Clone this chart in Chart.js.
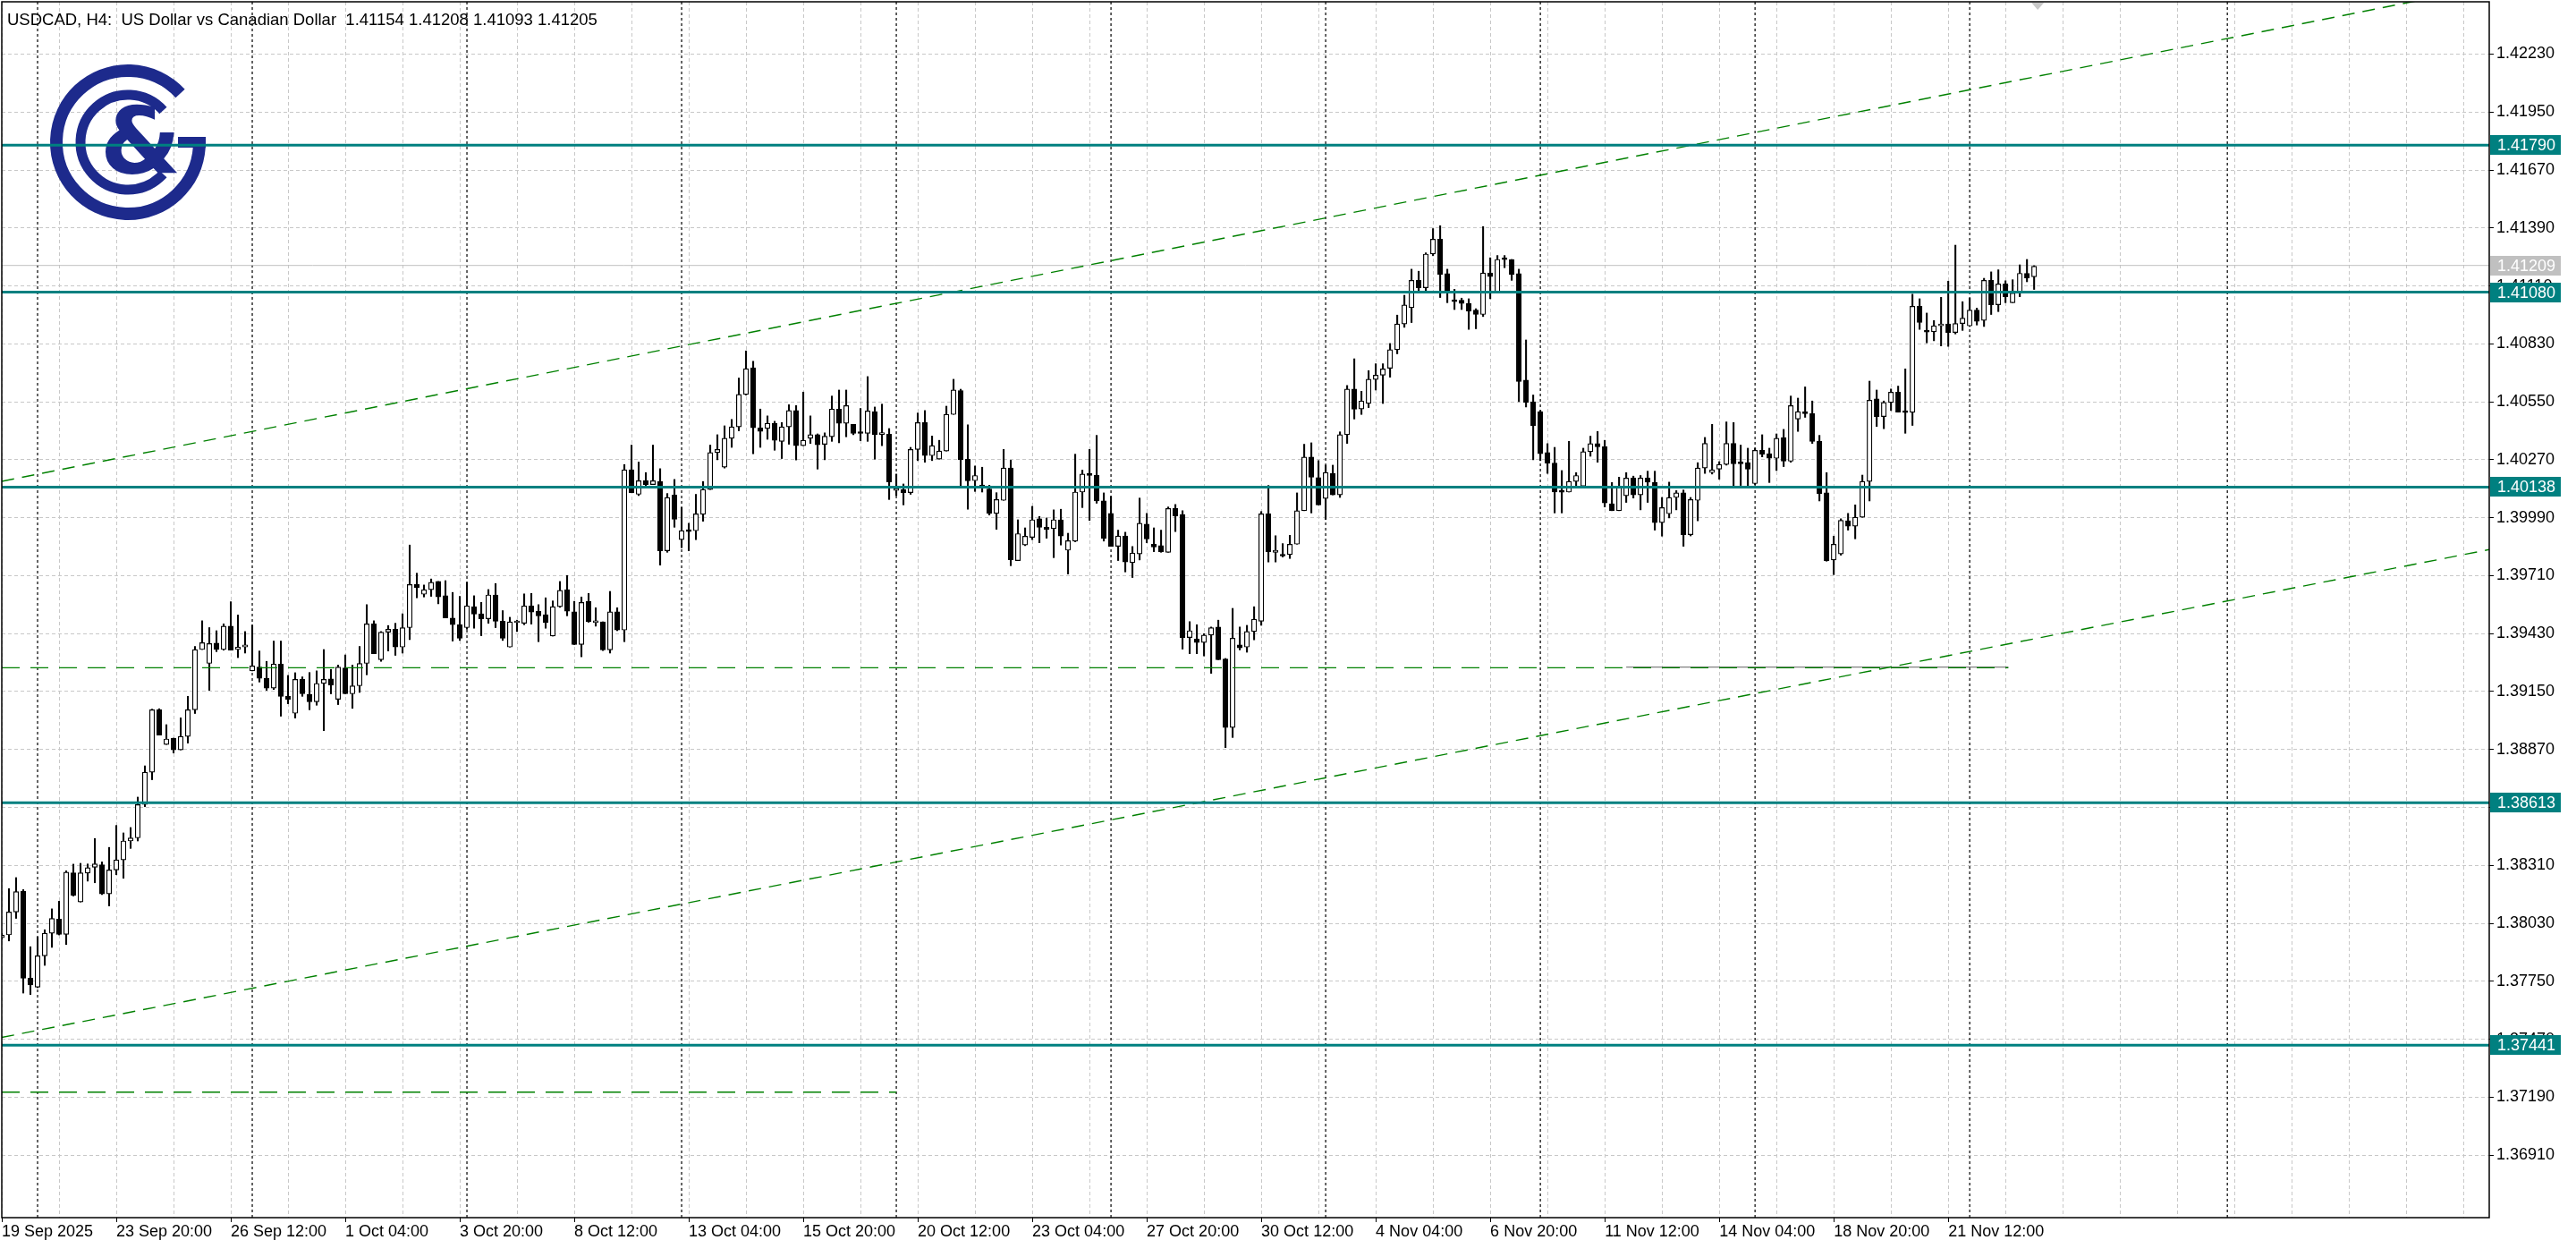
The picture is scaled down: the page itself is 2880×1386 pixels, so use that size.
<!DOCTYPE html>
<html>
<head>
<meta charset="utf-8">
<script src="https://cdn.jsdelivr.net/npm/chart.js@4.4.0/dist/chart.umd.min.js"></script>
<style>
  html, body { margin: 0; padding: 0; background: #fff; }
  #wrap { width: 2880px; height: 1386px; }
</style>
</head>
<body>
<div id="wrap"><canvas id="chart" width="2880" height="1386"></canvas></div>
<script>
// USDCAD H4 candles (bar 0 = 19 Sep 04:00)
const opens = [
  1.37960,1.37974,1.38085,1.38186,1.37765,1.37722,1.37873,1.37982,1.38051,1.37977,
  1.38274,1.38133,1.38273,1.38301,1.38313,1.38172,1.38288,1.38337,1.38428,1.38443,
  1.38604,1.38760,1.39062,1.38894,1.38925,1.38868,1.38933,1.39062,1.39353,1.39286,
  1.39384,1.39353,1.39466,1.39353,1.39365,1.39250,1.39268,1.39214,1.39167,1.39283,
  1.39127,1.39045,1.39209,1.39137,1.39101,1.39189,1.39211,1.39113,1.39264,1.39139,
  1.39178,1.39286,1.39477,1.39304,1.39437,1.39451,1.39365,1.39459,1.39667,1.39620,
  1.39642,1.39682,1.39613,1.39505,1.39473,1.39459,1.39560,1.39526,1.39502,1.39617,
  1.39490,1.39365,1.39483,1.39480,1.39564,1.39538,1.39521,1.39418,1.39560,1.39642,
  1.39535,1.39377,1.39586,1.39483,1.39487,1.39351,1.39535,1.39447,1.40222,1.40103,
  1.40169,1.40150,1.40165,1.39830,1.40100,1.39884,1.39926,1.39927,1.40006,1.40126,
  1.40305,1.40234,1.40374,1.40429,1.40586,1.40715,1.40424,1.40421,1.40446,1.40359,
  1.40429,1.40508,1.40338,1.40374,1.40391,1.40345,1.40381,1.40515,1.40446,1.40441,
  1.40400,1.40398,1.40503,1.40392,1.40394,1.40122,1.40126,1.40111,1.40320,1.40450,
  1.40290,1.40273,1.40312,1.40489,1.40604,1.40273,1.40169,1.40146,1.40129,1.40011,
  1.40074,1.40230,1.39783,1.39858,1.39895,1.39985,1.39944,1.39937,1.39980,1.39833,
  1.39877,1.40114,1.40204,1.40196,1.40071,1.40011,1.39852,1.39902,1.39773,1.39815,
  1.39959,1.39862,1.39855,1.39823,1.40035,1.40006,1.39411,1.39404,1.39387,1.39423,
  1.39462,1.39307,1.38976,1.39375,1.39365,1.39440,1.39490,1.40009,1.39823,1.39812,
  1.39812,1.39862,1.40024,1.40283,1.40184,1.40083,1.40204,1.40100,1.40391,1.40612,
  1.40515,1.40542,1.40658,1.40679,1.40712,1.40802,1.40926,1.41005,1.41137,1.41101,
  1.41264,1.41336,1.41169,1.41039,1.41041,1.41026,1.40993,1.40972,1.41173,1.41083,
  1.41240,1.41238,1.41169,1.40655,1.40550,1.40503,1.40305,1.40254,1.40116,1.40114,
  1.40165,1.40143,1.40309,1.40348,1.40333,1.40057,1.40024,1.40096,1.40182,1.40100,
  1.40182,1.40160,1.39966,1.40009,1.40088,1.40110,1.39908,1.40074,1.40230,1.40208,
  1.40225,1.40247,1.40349,1.40258,1.40256,1.40155,1.40316,1.40299,1.40277,1.40377,
  1.40263,1.40467,1.40503,1.40493,1.40359,1.40110,1.39786,1.39815,1.39975,1.39949,
  1.39992,1.40165,1.40564,1.40479,1.40547,1.40597,1.40503,1.40499,1.41012,1.40891,
  1.40888,1.40917,1.40926,1.40885,1.40928,1.40917,1.40993,1.40943,1.41137,1.41019,
  1.41120,1.41029,1.41075,1.41171,1.41154
]
const highs = [
  1.37982,1.38198,1.38251,1.38193,1.37917,1.37964,1.37999,1.38100,1.38137,1.38284,
  1.38316,1.38320,1.38317,1.38440,1.38327,1.38397,1.38503,1.38467,1.38493,1.38640,
  1.38791,1.39065,1.39067,1.38990,1.38925,1.39023,1.39127,1.39368,1.39492,1.39459,
  1.39444,1.39477,1.39584,1.39520,1.39440,1.39471,1.39346,1.39296,1.39394,1.39394,
  1.39228,1.39241,1.39221,1.39242,1.39250,1.39353,1.39257,1.39278,1.39327,1.39278,
  1.39368,1.39570,1.39492,1.39440,1.39469,1.39480,1.39526,1.39858,1.39722,1.39665,
  1.39694,1.39682,1.39686,1.39629,1.39610,1.39678,1.39613,1.39581,1.39643,1.39672,
  1.39541,1.39509,1.39495,1.39622,1.39624,1.39570,1.39603,1.39588,1.39682,1.39711,
  1.39586,1.39607,1.39624,1.39555,1.39487,1.39634,1.39555,1.40247,1.40341,1.40259,
  1.40208,1.40341,1.40227,1.40107,1.40175,1.40039,1.39963,1.40103,1.40165,1.40341,
  1.40391,1.40434,1.40465,1.40665,1.40796,1.40746,1.40515,1.40482,1.40456,1.40450,
  1.40536,1.40532,1.40597,1.40482,1.40395,1.40400,1.40578,1.40607,1.40607,1.40441,
  1.40518,1.40672,1.40525,1.40539,1.40421,1.40201,1.40153,1.40330,1.40496,1.40508,
  1.40385,1.40364,1.40529,1.40659,1.40611,1.40439,1.40240,1.40234,1.40147,1.40111,
  1.40320,1.40268,1.39980,1.39941,1.40045,1.39996,1.39989,1.40028,1.40031,1.39915,
  1.40297,1.40220,1.40320,1.40388,1.40110,1.40093,1.39930,1.39920,1.39851,1.40085,
  1.40011,1.39941,1.39930,1.40042,1.40054,1.40024,1.39488,1.39473,1.39430,1.39462,
  1.39495,1.39310,1.39552,1.39462,1.39470,1.39560,1.40020,1.40146,1.39903,1.39865,
  1.39905,1.40110,1.40345,1.40352,1.40266,1.40244,1.40244,1.40405,1.40629,1.40758,
  1.40601,1.40701,1.40734,1.40734,1.40832,1.40969,1.41065,1.41191,1.41181,1.41270,
  1.41387,1.41401,1.41191,1.41094,1.41051,1.41048,1.41000,1.41397,1.41246,1.41257,
  1.41257,1.41238,1.41191,1.40849,1.40583,1.40508,1.40348,1.40330,1.40218,1.40359,
  1.40208,1.40326,1.40384,1.40407,1.40364,1.40160,1.40186,1.40208,1.40191,1.40194,
  1.40215,1.40215,1.40088,1.40162,1.40121,1.40124,1.40088,1.40256,1.40378,1.40441,
  1.40261,1.40453,1.40450,1.40341,1.40326,1.40326,1.40391,1.40326,1.40395,1.40417,
  1.40578,1.40568,1.40622,1.40554,1.40388,1.40208,1.39901,1.39985,1.40011,1.40052,
  1.40196,1.40650,1.40607,1.40554,1.40612,1.40626,1.40709,1.41070,1.41048,1.40979,
  1.40943,1.41055,1.41133,1.41307,1.41034,1.41051,1.41003,1.41147,1.41178,1.41188,
  1.41135,1.41140,1.41212,1.41238,1.41208
]
const lows = [
  1.37953,1.37945,1.38054,1.37693,1.37686,1.37719,1.37827,1.37914,1.37974,1.37928,
  1.38162,1.38133,1.38234,1.38226,1.38169,1.38114,1.38265,1.38248,1.38392,1.38428,
  1.38594,1.38724,1.38940,1.38894,1.38853,1.38868,1.38901,1.39044,1.39353,1.39156,
  1.39343,1.39350,1.39350,1.39314,1.39336,1.39250,1.39196,1.39156,1.39160,1.39031,
  1.39091,1.39022,1.39127,1.39062,1.39084,1.38961,1.39139,1.39087,1.39139,1.39069,
  1.39146,1.39231,1.39333,1.39296,1.39346,1.39325,1.39336,1.39401,1.39603,1.39607,
  1.39610,1.39574,1.39506,1.39394,1.39397,1.39451,1.39456,1.39420,1.39480,1.39459,
  1.39397,1.39365,1.39440,1.39473,1.39476,1.39391,1.39456,1.39418,1.39557,1.39516,
  1.39377,1.39318,1.39485,1.39466,1.39348,1.39336,1.39444,1.39391,1.40111,1.40097,
  1.40140,1.40150,1.39761,1.39823,1.39944,1.39845,1.39830,1.39884,1.39973,1.40126,
  1.40270,1.40230,1.40330,1.40410,1.40583,1.40299,1.40330,1.40369,1.40316,1.40276,
  1.40345,1.40269,1.40338,1.40349,1.40225,1.40270,1.40359,1.40352,1.40381,1.40391,
  1.40362,1.40359,1.40273,1.40338,1.40078,1.40097,1.40052,1.40103,1.40266,1.40258,
  1.40266,1.40273,1.40312,1.40489,1.40140,1.40031,1.40117,1.40114,1.40003,1.39934,
  1.40074,1.39758,1.39783,1.39855,1.39884,1.39869,1.39891,1.39797,1.39858,1.39718,
  1.39874,1.40039,1.39977,1.40060,1.39877,1.39852,1.39783,1.39728,1.39701,1.39786,
  1.39869,1.39826,1.39823,1.39823,1.39923,1.39355,1.39333,1.39333,1.39322,1.39238,
  1.39304,1.38879,1.38928,1.39351,1.39340,1.39400,1.39470,1.39776,1.39776,1.39800,
  1.39793,1.39862,1.40024,1.40013,1.40052,1.39982,1.40100,1.40088,1.40349,1.40467,
  1.40489,1.40522,1.40607,1.40542,1.40669,1.40782,1.40910,1.40933,1.41083,1.41083,
  1.41256,1.41054,1.41029,1.40996,1.40996,1.40900,1.40903,1.40962,1.41048,1.41083,
  1.41198,1.41137,1.40551,1.40525,1.40270,1.40266,1.40204,1.40013,1.40013,1.40114,
  1.40143,1.40143,1.40287,1.40258,1.40042,1.40024,1.40024,1.40064,1.40085,1.40028,
  1.40064,1.39930,1.39901,1.39989,1.40028,1.39852,1.39902,1.39975,1.40204,1.40201,
  1.40176,1.40244,1.40143,1.40146,1.40143,1.40150,1.40284,1.40160,1.40218,1.40237,
  1.40258,1.40407,1.40475,1.40349,1.40071,1.39780,1.39715,1.39809,1.39930,1.39888,
  1.39992,1.40071,1.40431,1.40420,1.40508,1.40500,1.40398,1.40436,1.40900,1.40835,
  1.40845,1.40820,1.40818,1.40878,1.40895,1.40914,1.40921,1.40914,1.40972,1.40986,
  1.41029,1.41029,1.41058,1.41130,1.41093
]
const closes = [
  1.37974,1.38085,1.38183,1.37765,1.37732,1.37873,1.37982,1.38054,1.37977,1.38277,
  1.38166,1.38274,1.38299,1.38317,1.38172,1.38288,1.38337,1.38428,1.38443,1.38604,
  1.38760,1.39062,1.38940,1.38921,1.38868,1.38933,1.39062,1.39353,1.39386,1.39382,
  1.39353,1.39466,1.39350,1.39365,1.39376,1.39274,1.39214,1.39167,1.39283,1.39127,
  1.39113,1.39209,1.39139,1.39101,1.39189,1.39209,1.39182,1.39268,1.39139,1.39178,
  1.39286,1.39477,1.39333,1.39437,1.39451,1.39365,1.39459,1.39667,1.39653,1.39642,
  1.39678,1.39607,1.39506,1.39473,1.39408,1.39564,1.39524,1.39502,1.39617,1.39490,
  1.39408,1.39487,1.39486,1.39564,1.39534,1.39516,1.39483,1.39560,1.39639,1.39538,
  1.39377,1.39581,1.39487,1.39492,1.39351,1.39535,1.39447,1.40222,1.40111,1.40169,
  1.40150,1.40169,1.39830,1.40088,1.39982,1.39927,1.39923,1.40009,1.40126,1.40305,
  1.40320,1.40374,1.40429,1.40586,1.40710,1.40424,1.40407,1.40446,1.40364,1.40429,
  1.40508,1.40338,1.40364,1.40391,1.40342,1.40384,1.40515,1.40446,1.40532,1.40398,
  1.40397,1.40506,1.40392,1.40395,1.40163,1.40129,1.40111,1.40320,1.40450,1.40290,
  1.40338,1.40312,1.40489,1.40607,1.40270,1.40168,1.40194,1.40140,1.40011,1.40078,
  1.40230,1.39787,1.39913,1.39901,1.39980,1.39944,1.39934,1.39980,1.39901,1.39879,
  1.40114,1.40201,1.40194,1.40071,1.39891,1.39852,1.39902,1.39776,1.39819,1.39963,
  1.39887,1.39848,1.39826,1.40035,1.39999,1.39411,1.39444,1.39387,1.39423,1.39459,
  1.39304,1.38976,1.39408,1.39361,1.39440,1.39500,1.40009,1.39826,1.39833,1.39805,
  1.39862,1.40024,1.40283,1.40186,1.40052,1.40208,1.40100,1.40391,1.40612,1.40514,
  1.40554,1.40659,1.40679,1.40709,1.40802,1.40926,1.41018,1.41137,1.41101,1.41264,
  1.41336,1.41166,1.41080,1.41034,1.41025,1.40989,1.40972,1.41173,1.41155,1.41238,
  1.41237,1.41166,1.40648,1.40547,1.40434,1.40299,1.40254,1.40114,1.40113,1.40165,
  1.40194,1.40309,1.40348,1.40333,1.40061,1.40024,1.40143,1.40182,1.40100,1.40182,
  1.40162,1.39966,1.40039,1.40088,1.40110,1.39908,1.40078,1.40230,1.40349,1.40222,
  1.40247,1.40349,1.40251,1.40251,1.40225,1.40316,1.40297,1.40277,1.40374,1.40263,
  1.40532,1.40503,1.40493,1.40359,1.40107,1.39783,1.39862,1.39977,1.39949,1.39992,
  1.40165,1.40558,1.40479,1.40547,1.40597,1.40500,1.40498,1.41012,1.40933,1.40887,
  1.40917,1.40926,1.40885,1.40928,1.40954,1.40993,1.40939,1.41137,1.41019,1.41120,
  1.41058,1.41075,1.41171,1.41149,1.41205
]

// time axis labels, one every 16 bars
const timeLabels = ['19 Sep 2025', '23 Sep 20:00', '26 Sep 12:00', '1 Oct 04:00', '3 Oct 20:00',
  '8 Oct 12:00', '13 Oct 04:00', '15 Oct 20:00', '20 Oct 12:00', '23 Oct 04:00', '27 Oct 20:00',
  '30 Oct 12:00', '4 Nov 04:00', '6 Nov 20:00', '11 Nov 12:00', '14 Nov 04:00', '18 Nov 20:00', '21 Nov 12:00']
const labelEvery = 16
const gridEvery = 8

const yTicks = [1.36910, 1.37190, 1.37470, 1.37750, 1.38030, 1.38310, 1.38590, 1.38870, 1.39150, 1.39430,
  1.39710, 1.39990, 1.40270, 1.40550, 1.40830, 1.41110, 1.41390, 1.41670, 1.41950, 1.42230]

// support / resistance levels (teal) and the ask line
const levels = [1.41790, 1.41080, 1.40138, 1.38613, 1.37441]
const askPrice = 1.41209

// weekly separators (first bar of each week) and the vertical marker in the empty area
const weekStarts = [5, 35, 65, 95, 125, 155, 185, 215, 245, 275]
const vMarks = [311]

// drawn objects: [bar, price] end points
const upperChannel = [[0, 1.40166], [337.25, 1.42486]]
const lowerChannel = [[0, 1.37479], [347.6, 1.39836]]
const flatLines = [[[0, 1.39265], [280.4, 1.39265]], [[0, 1.37214], [125, 1.37214]]]
const grayLine = [[227, 1.39268], [280.4, 1.39268]]

const xMin = 0, xMax = 347.6
const yMin = 1.36608, yMax = 1.42483

const title = 'USDCAD, H4:  US Dollar vs Canadian Dollar  1.41154 1.41208 1.41093 1.41205'
const FONT = '"Liberation Sans", Arial, sans-serif'
const TEAL = '#008080'
const GREEN = '#008000'

const pts = arr => arr.map(p => ({ x: p[0], y: p[1] }))

function lineSet(points, color, width, dash, order) {
  return {
    type: 'line', data: pts(points), borderColor: color, borderWidth: width,
    borderDash: dash, pointRadius: 0, tension: 0, order: order, clip: 0
  }
}

function priceTag(ctx, left, y, value, bg) {
  ctx.fillStyle = bg
  ctx.fillRect(left + 1, Math.round(y) - 11, 79, 22)
  ctx.fillStyle = '#fff'
  ctx.fillText(value.toFixed(5), left + 9, y + 1)
}

function drawLogo(ctx) {
  const cx = 143, cy = 159
  ctx.save()
  ctx.strokeStyle = '#1d2a8c'
  ctx.fillStyle = '#1d2a8c'
  ctx.lineCap = 'butt'
  // outer G
  ctx.lineWidth = 14
  ctx.beginPath()
  ctx.arc(cx, cy, 80, -43 * Math.PI / 180, 4 * Math.PI / 180, true)
  ctx.stroke()
  ctx.fillRect(cx + 56, cy - 6, 31, 12)
  // inner C
  ctx.lineWidth = 11
  ctx.beginPath()
  ctx.arc(cx, cy, 53, -42 * Math.PI / 180, 42 * Math.PI / 180, true)
  ctx.stroke()
  // ampersand
  ctx.font = 'bold 104px "DejaVu Sans", sans-serif'
  ctx.textAlign = 'center'
  ctx.textBaseline = 'middle'
  ctx.fillText('&', cx + 14, cy + 8)
  ctx.restore()
}

const mtDecor = {
  id: 'mtDecor',
  beforeDatasetsDraw(chart) {
    drawLogo(chart.ctx)
  },
  afterDraw(chart) {
    const { ctx, chartArea: a, scales } = chart
    const y = scales.y, x = scales.x
    ctx.save()
    // frame
    ctx.strokeStyle = '#000'
    ctx.lineWidth = 1.5
    ctx.strokeRect(a.left, a.top, a.right - a.left, a.bottom - a.top)
    // price tags on the axis
    ctx.font = '18px ' + FONT
    ctx.textBaseline = 'middle'
    ctx.textAlign = 'left'
    priceTag(ctx, a.right, y.getPixelForValue(askPrice), askPrice, '#c0c0c0')
    levels.forEach(v => priceTag(ctx, a.right, y.getPixelForValue(v), v, TEAL))
    // title
    ctx.fillStyle = '#000'
    ctx.textBaseline = 'top'
    ctx.font = '18.5px ' + FONT
    ctx.fillText(title, 8, 14)
    // chart shift marker
    const mx = x.getPixelForValue(opens.length - 0.5)
    ctx.fillStyle = '#c8c8c8'
    ctx.beginPath()
    ctx.moveTo(mx - 7, a.top + 1)
    ctx.lineTo(mx + 7, a.top + 1)
    ctx.lineTo(mx, a.top + 9)
    ctx.closePath()
    ctx.fill()
    ctx.restore()
  }
}

const wickData = highs.map((h, i) => ({ x: i, y: [lows[i], h] }))
const bodyData = opens.map((o, i) => ({ x: i, y: [o, closes[i]] }))
const bodyColors = opens.map((o, i) => closes[i] >= o ? '#ffffff' : '#000000')

const datasets = [
  ...levels.map(v => lineSet([[xMin, v], [xMax, v]], TEAL, 3, [], 1)),
  lineSet(upperChannel, GREEN, 1.4, [14, 9], 2),
  lineSet(lowerChannel, GREEN, 1.4, [14, 9], 2),
  lineSet(grayLine, '#808080', 1.2, [], 3),
  ...flatLines.map(l => lineSet(l, GREEN, 1.4, [20, 12], 2)),
  {
    type: 'bar', data: bodyData, backgroundColor: bodyColors, borderColor: '#000',
    borderWidth: 1.2, borderSkipped: false, barThickness: 5.5, minBarLength: 2,
    grouped: false, order: 4, clip: 0
  },
  {
    type: 'bar', data: wickData, backgroundColor: '#000', borderWidth: 0,
    barThickness: 1.4, grouped: false, order: 5, clip: 0
  },
  lineSet([[xMin, askPrice], [xMax, askPrice]], '#c0c0c0', 1, [], 6),
  ...weekStarts.concat(vMarks).map(b => lineSet([[b, yMin], [b, yMax]], '#000', 1.2, [3, 3], 7))
]

new Chart(document.getElementById('chart'), {
  type: 'bar',
  data: { datasets },
  plugins: [mtDecor],
  options: {
    responsive: false,
    devicePixelRatio: 1,
    animation: false,
    events: [],
    layout: { padding: { left: 2, top: 2, right: 0, bottom: 0 } },
    plugins: { legend: { display: false }, tooltip: { enabled: false } },
    scales: {
      x: {
        type: 'linear', min: xMin, max: xMax, offset: false,
        afterBuildTicks: s => {
          const t = []
          for (let v = 0; v <= xMax; v += gridEvery) t.push({ value: v })
          s.ticks = t
        },
        afterFit: s => { s.height = 25; s.paddingLeft = 0; s.paddingRight = 0 },
        grid: {
          color: '#c8c8c8', lineWidth: 1, offset: false, tickLength: 5, tickWidth: 1,
          tickColor: c => (c.tick && c.tick.value % labelEvery === 0 && c.tick.value / labelEvery < timeLabels.length) ? '#000' : 'rgba(0,0,0,0)'
        },
        border: { display: false, dash: [4, 3] },
        ticks: {
          autoSkip: false, maxRotation: 0, minRotation: 0, align: 'start', padding: 0,
          color: '#000', font: { family: FONT, size: 18 },
          callback: v => (v % labelEvery === 0 && v / labelEvery < timeLabels.length) ? timeLabels[v / labelEvery] : ''
        }
      },
      y: {
        type: 'linear', position: 'right', min: yMin, max: yMax, beginAtZero: false,
        afterBuildTicks: s => { s.ticks = yTicks.map(v => ({ value: v })) },
        afterFit: s => { s.width = 97; s.paddingTop = 0; s.paddingBottom = 0 },
        grid: { color: '#c8c8c8', lineWidth: 1, tickLength: 5, tickColor: '#000', tickWidth: 1 },
        border: { display: false, dash: [4, 3] },
        ticks: {
          padding: 3, color: '#000', font: { family: FONT, size: 18 },
          callback: v => v.toFixed(5)
        }
      }
    }
  }
})
</script>
</body>
</html>
